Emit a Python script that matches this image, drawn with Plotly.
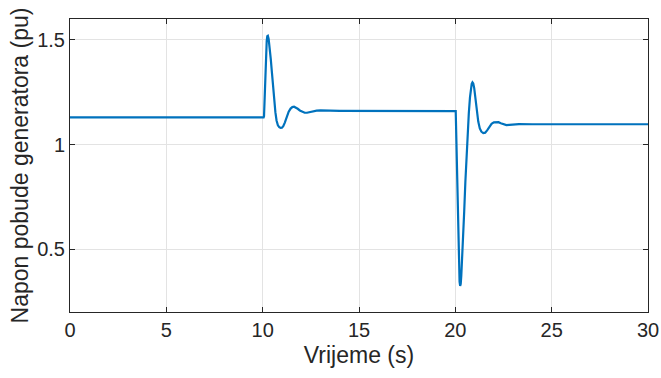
import plotly.graph_objects as go

# Generator excitation voltage response (time in s, voltage in pu)
time_s = [0.0, 10.05, 10.07, 10.09, 10.12, 10.15, 10.18, 10.21, 10.24, 10.27, 10.31,
          10.36, 10.42, 10.48, 10.54, 10.60, 10.66, 10.72, 10.79, 10.86, 10.93,
          11.00, 11.07, 11.15, 11.25, 11.35, 11.45, 11.54, 11.63, 11.72, 11.82,
          11.93, 12.05, 12.18, 12.30, 12.45, 12.60, 12.80, 13.00, 13.50, 14.00,
          20.02, 20.04, 20.07, 20.10, 20.13, 20.16, 20.19, 20.22, 20.25, 20.28,
          20.31, 20.35, 20.40, 20.46, 20.52, 20.58, 20.64, 20.70, 20.76, 20.81,
          20.85, 20.89, 20.93, 20.98, 21.04, 21.11, 21.19, 21.27, 21.35, 21.45,
          21.55, 21.65, 21.76, 21.88, 22.00, 22.12, 22.24, 22.36, 22.50, 22.65,
          22.80, 23.00, 23.30, 24.00, 30.00]
voltage_pu = [1.130, 1.130, 1.135, 1.200, 1.300, 1.390, 1.450, 1.495, 1.518, 1.520, 1.505,
              1.470, 1.410, 1.345, 1.275, 1.210, 1.155, 1.115, 1.092, 1.083, 1.080,
              1.081, 1.088, 1.105, 1.132, 1.157, 1.172, 1.179, 1.181, 1.178, 1.171,
              1.163, 1.156, 1.152, 1.152, 1.155, 1.159, 1.162, 1.163, 1.162, 1.161,
              1.160, 1.080, 0.920, 0.760, 0.610, 0.490, 0.400, 0.345, 0.325, 0.335,
              0.375, 0.440, 0.540, 0.680, 0.820, 0.950, 1.060, 1.150, 1.225, 1.270,
              1.290, 1.297, 1.292, 1.270, 1.225, 1.165, 1.110, 1.077, 1.062, 1.055,
              1.057, 1.068, 1.085, 1.099, 1.106, 1.108, 1.107, 1.102, 1.096, 1.093,
              1.094, 1.097, 1.098, 1.097, 1.097]

x_ticks = [0, 5, 10, 15, 20, 25, 30]
y_ticks = [0.5, 1, 1.5]
y_tick_labels = ["0.5", "1", "1.5"]

axis_color = "#262626"
grid_color = "#e3e3e3"
font_family = "Liberation Sans, Arial, sans-serif"

fig = go.Figure()
fig.add_trace(go.Scatter(
    x=time_s, y=voltage_pu, mode="lines",
    line=dict(color="#0072BD", width=2.2),
    showlegend=False,
))

axis_common = dict(
    showline=True, linecolor=axis_color, linewidth=1,
    mirror="ticks", ticks="inside", ticklen=5, tickcolor=axis_color, tickwidth=1,
    showgrid=True, gridcolor=grid_color, gridwidth=1, zeroline=False,
    automargin=False,
    tickfont=dict(family=font_family, size=20, color=axis_color),
    title_font=dict(family=font_family, size=23, color=axis_color),
)

fig.update_xaxes(range=[0, 30], tickvals=x_ticks,
                 title=dict(text="Vrijeme (s)", standoff=6), **axis_common)
fig.update_yaxes(range=[0.2, 1.6], tickvals=y_ticks, ticktext=y_tick_labels,
                 title=dict(text="Napon pobude generatora (pu)", standoff=2), **axis_common)

fig.update_layout(
    width=661, height=378, autosize=False,
    margin=dict(l=70, r=13, t=19, b=66),
    paper_bgcolor="white", plot_bgcolor="white",
)

fig.write_html("out.html")
